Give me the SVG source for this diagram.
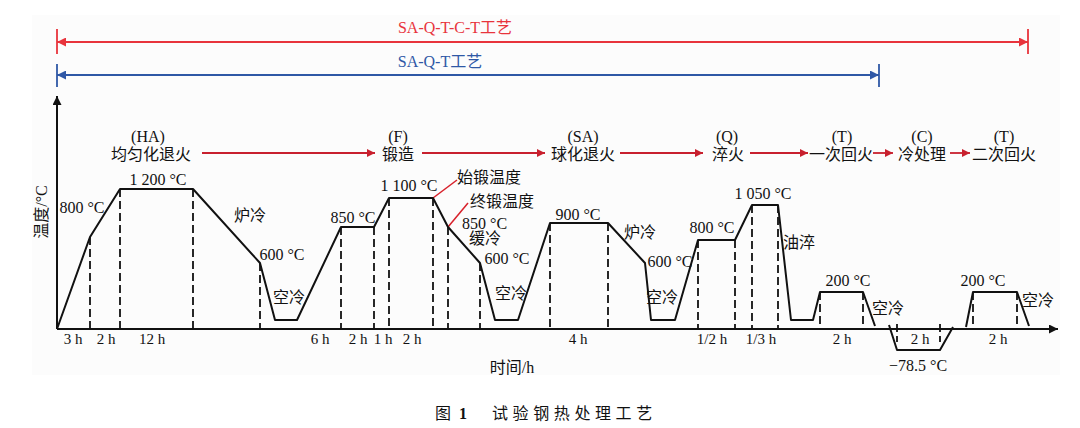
<svg xmlns="http://www.w3.org/2000/svg" width="1080" height="428" viewBox="0 0 1080 428">
<style>
text{font-family:"Liberation Serif","Noto Sans CJK SC",serif;font-size:16px;fill:#111;text-anchor:middle}
.t{font-size:15px}
.cap{font-family:"Noto Sans CJK SC","Noto Sans",sans-serif;font-size:16px;text-anchor:start}
.ax{stroke:#111;stroke-width:2;fill:none}
.pr{stroke:#111;stroke-width:2;fill:none;stroke-linejoin:round}
.dash{stroke:#111;stroke-width:1.8;stroke-dasharray:8,4;fill:none}
.flow{stroke:#c8202e;stroke-width:1.8;fill:none;marker-end:url(#ra)}
.lead{stroke:#d8202a;stroke-width:1.5;fill:none}
</style>
<defs>
<marker id="ra" viewBox="0 0 10 10" refX="10" refY="5" markerWidth="10" markerHeight="8" markerUnits="userSpaceOnUse" orient="auto"><path d="M0,0 L10,5 L0,10 z" fill="#c8202e"/></marker>
<marker id="rt" viewBox="0 0 10 10" refX="10" refY="5" markerWidth="10" markerHeight="9" markerUnits="userSpaceOnUse" orient="auto-start-reverse"><path d="M0,0 L10,5 L0,10 z" fill="#e8343c"/></marker>
<marker id="bt" viewBox="0 0 10 10" refX="10" refY="5" markerWidth="10" markerHeight="9" markerUnits="userSpaceOnUse" orient="auto-start-reverse"><path d="M0,0 L10,5 L0,10 z" fill="#2f58a6"/></marker>
<marker id="ka" viewBox="0 0 10 10" refX="10" refY="5" markerWidth="12" markerHeight="9" markerUnits="userSpaceOnUse" orient="auto"><path d="M0,0 L10,5 L0,10 z" fill="#111"/></marker>
</defs>
<rect x="0" y="0" width="1080" height="428" fill="#ffffff"/>
<rect x="32" y="15" width="1028" height="360" fill="#fcfcfc"/>

<g id="span-red">
<line x1="57" y1="42" x2="1028" y2="42" stroke="#e8343c" stroke-width="1.8" marker-start="url(#rt)" marker-end="url(#rt)"/>
<line x1="57" y1="29" x2="57" y2="54" stroke="#e8343c" stroke-width="1.8"/>
<line x1="1028" y1="29" x2="1028" y2="54" stroke="#e8343c" stroke-width="1.8"/>
<text x="455" y="33" style="fill:#e8343c">SA-Q-T-C-T工艺</text>
</g>
<g id="span-blue">
<line x1="57" y1="75" x2="879" y2="75" stroke="#2f58a6" stroke-width="2" marker-start="url(#bt)" marker-end="url(#bt)"/>
<line x1="57" y1="64" x2="57" y2="87" stroke="#2f58a6" stroke-width="1.8"/>
<line x1="879" y1="64" x2="879" y2="87" stroke="#2f58a6" stroke-width="1.8"/>
<text x="440" y="67" style="fill:#2f58a6">SA-Q-T工艺</text>
</g>

<g id="axes">
<line class="ax" x1="57" y1="329" x2="57" y2="96" marker-end="url(#ka)"/>
<line class="ax" x1="57" y1="329" x2="1058" y2="329" marker-end="url(#ka)"/>
<text transform="translate(47,212) rotate(-90)">温度/°C</text>
<text x="512" y="373">时间/h</text>
</g>

<g id="step-HA"><text x="148" y="142">(HA)</text><text x="151" y="160">均匀化退火</text></g>
<g id="step-F"><text x="398" y="142">(F)</text><text x="398" y="160">锻造</text></g>
<g id="step-SA"><text x="583" y="142">(SA)</text><text x="583" y="160">球化退火</text></g>
<g id="step-Q"><text x="727" y="142">(Q)</text><text x="728" y="160">淬火</text></g>
<g id="step-T1"><text x="842" y="142">(T)</text><text x="841" y="160">一次回火</text></g>
<g id="step-C"><text x="922" y="142">(C)</text><text x="922" y="160">冷处理</text></g>
<g id="step-T2"><text x="1004" y="142">(T)</text><text x="1004" y="160">二次回火</text></g>

<g id="connectors">
<line class="flow" x1="202" y1="153" x2="375" y2="153"/>
<line class="flow" x1="422" y1="153" x2="545" y2="153"/>
<line class="flow" x1="620" y1="153" x2="703" y2="153"/>
<line class="flow" x1="750" y1="153" x2="808" y2="153"/>
<line class="flow" x1="873" y1="153" x2="893" y2="153"/>
<line class="flow" x1="950" y1="153" x2="970" y2="153"/>
<line class="lead" x1="433" y1="198" x2="457" y2="180"/>
<line class="lead" x1="448" y1="227" x2="468" y2="203"/>
</g>

<g id="profile">
<path class="pr" d="M57,329 L90,237 L120,189 L193,189 L260,263 L275,320 L297,320 L341,227 L374,227 L389,198 L433,198 L448,227 L480,263 L495,320 L518,320 L550,223 L608,223 L645,263 L651,320 L675,320 L698,240 L735,240 L752,205 L778,205 L791,320 L813,320 L820,292 L863,292 L875,326"/>
<path class="pr" d="M889,325 L897,350 L940,350 L953,327"/>
<path class="pr" d="M966,327 L973,292 L1017,292 L1029,326"/>
</g>

<g id="dashes">
<path class="dash" d="M90,237V329 M120,189V329 M193,189V329 M260,263V329 M341,227V329 M374,227V329 M389,198V329 M433,198V329 M448,227V329 M480,263V329 M550,223V329 M608,223V329 M698,240V329 M735,240V329 M752,205V329 M778,205V329 M820,292V329 M863,292V329 M973,292V329 M1017,292V329 M897,324V342 M940,324V342"/>
</g>

<g id="temps">
<text x="82" y="213">800 °C</text>
<text x="158" y="185">1 200 °C</text>
<text x="250" y="221">炉冷</text>
<text x="282" y="260">600 °C</text>
<text x="289" y="303">空冷</text>
<text x="353" y="223">850 °C</text>
<text x="409" y="191">1 100 °C</text>
<text x="457" y="183" style="text-anchor:start">始锻温度</text>
<text x="470" y="207" style="text-anchor:start">终锻温度</text>
<text x="462" y="229" style="text-anchor:start">850 °C</text>
<text x="469" y="244" style="text-anchor:start">缓冷</text>
<text x="507" y="264">600 °C</text>
<text x="511" y="299">空冷</text>
<text x="578" y="220">900 °C</text>
<text x="640" y="238">炉冷</text>
<text x="670" y="267">600 °C</text>
<text x="662" y="303">空冷</text>
<text x="712" y="233">800 °C</text>
<text x="763" y="199">1 050 °C</text>
<text x="783" y="248" style="text-anchor:start">油淬</text>
<text x="848" y="286">200 °C</text>
<text x="888" y="314">空冷</text>
<text x="918" y="371">−78.5 °C</text>
<text x="983" y="286">200 °C</text>
<text x="1038" y="306">空冷</text>
</g>

<g id="times">
<text class="t" x="73" y="344">3 h</text>
<text class="t" x="106" y="344">2 h</text>
<text class="t" x="152" y="344">12 h</text>
<text class="t" x="320" y="344">6 h</text>
<text class="t" x="358" y="344">2 h</text>
<text class="t" x="383" y="344">1 h</text>
<text class="t" x="412" y="344">2 h</text>
<text class="t" x="578" y="344">4 h</text>
<text class="t" x="712" y="344">1/2 h</text>
<text class="t" x="761" y="344">1/3 h</text>
<text class="t" x="842" y="344">2 h</text>
<text class="t" x="920" y="344">2 h</text>
<text class="t" x="998" y="344">2 h</text>
</g>

<g id="caption">
<text class="cap" x="435" y="419">图</text>
<text class="cap" x="459" y="419" style="font-family:'Liberation Serif',serif;font-weight:bold">1</text>
<text class="cap" x="492" y="419" style="letter-spacing:4.6px">试验钢热处理工艺</text>
</g>
</svg>
